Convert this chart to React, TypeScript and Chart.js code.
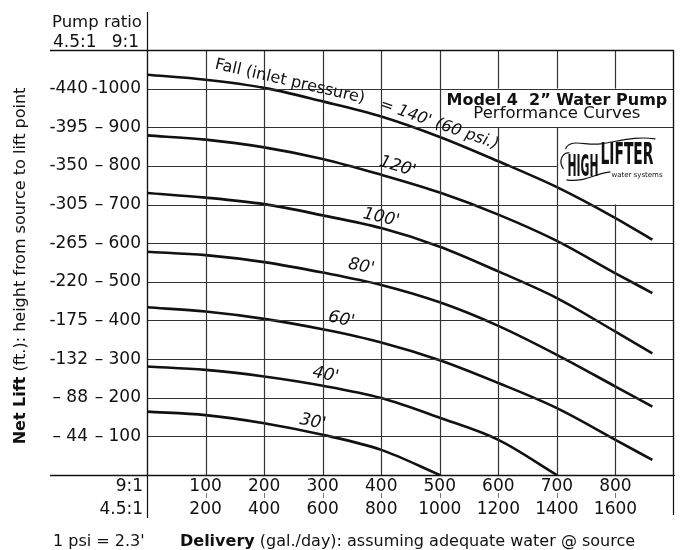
import React, { useEffect, useRef } from "react";
import { Chart, registerables } from "chart.js";

Chart.register(...registerables);

// Delivery (gal./day) at 9:1 ratio — x positions of curve points
const DELIVERY_9 = [0, 100, 200, 300, 400, 500, 600, 700, 800, 863];
// Tick labels of the delivery axis (two rows)
const TICKS_9 = [100, 200, 300, 400, 500, 600, 700, 800];
const TICKS_45 = [200, 400, 600, 800, 1000, 1200, 1400, 1600];
// Net lift tick labels (two columns)
const LIFT_9 = [100, 200, 300, 400, 500, 600, 700, 800, 900, 1000];
const LIFT_45 = [44, 88, 132, 175, 220, 265, 305, 350, 395, 440];

// Performance curves: net lift (ft, 9:1 scale) for each fall
const FALL_140 = [1036, 1023, 1002, 967, 928, 875, 812, 745, 665, 609];
const FALL_120 = [879, 868, 848, 818, 777, 731, 674, 606, 522, 471];
const FALL_100 = [730, 718, 701, 672, 639, 591, 527, 458, 371, 315];
const FALL_80 = [578, 569, 551, 524, 492, 447, 386, 311, 229, 177];
const FALL_60 = [434, 423, 404, 377, 343, 297, 238, 173, 91, 39];
const FALL_40 = [281, 272, 255, 231, 199, 148, 91, 0];
const FALL_30 = [164, 155, 134, 104, 65, 0];
const SERIES = [FALL_140, FALL_120, FALL_100, FALL_80, FALL_60, FALL_40, FALL_30];
const SERIES_NAMES = ["140'", "120'", "100'", "80'", "60'", "40'", "30'"];

// Curve labels (centre in data units)
const LABEL_TEXTS = ["Fall (inlet pressure)", "= 140' (60 psi.)", "120'", "100'", "80'", "60'", "40'", "30'"];
const LABEL_SERIES = [0, 0, 1, 2, 3, 4, 5, 6];
const LABEL_X = [244, 499, 428, 400, 366, 332, 305, 283];
const LABEL_Y = [1018, 907, 798, 666, 539, 402, 259, 137];
const LABEL_ITALIC = [false, true, true, true, true, true, true, true];

// Boxes that blank out grid cells (data units): [x0, x1, y0, y1]
const TITLE_CELL = [500, 900, 900, 1000];
const LOGO_CELL = [700, 900, 700, 900];

const FONT = "'DejaVu Sans', 'Liberation Sans', sans-serif";
const INK = "#111";
const GRID = "#333";

function inCell(c: number[], xv: number, yv: number, vertical: boolean) {
  // true when a grid segment (at a tick value) lies strictly inside a blank cell
  if (vertical) return xv > c[0] && xv < c[1];
  return yv > c[2] && yv < c[3];
}

function curveAngle(chart: any, sIdx: number, xv: number) {
  const s = SERIES[sIdx];
  const xs = chart.scales.x, ys = chart.scales.y;
  let i = 0;
  while (i < s.length - 2 && DELIVERY_9[i + 1] < xv) i++;
  const x1 = xs.getPixelForValue(DELIVERY_9[i]);
  const y1 = ys.getPixelForValue(s[i]);
  const x2 = xs.getPixelForValue(DELIVERY_9[i + 1]);
  const y2 = ys.getPixelForValue(s[i + 1]);
  return Math.atan2(y2 - y1, x2 - x1);
}

function drawRich(ctx: CanvasRenderingContext2D, parts: [string, string][], x: number, y: number, align: "left" | "center") {
  let total = 0;
  const widths = parts.map(([font, t]) => { ctx.font = font; const w = ctx.measureText(t).width; total += w; return w; });
  let cx = align === "center" ? x - total / 2 : x;
  ctx.textAlign = "left";
  parts.forEach(([font, t], i) => { ctx.font = font; ctx.fillText(t, cx, y); cx += widths[i]; });
}

function drawGrid(chart: any) {
  const ctx: CanvasRenderingContext2D = chart.ctx;
  const x = chart.scales.x, y = chart.scales.y;
  const area = chart.chartArea;
  const cells = [TITLE_CELL, LOGO_CELL];
  ctx.save();
  ctx.strokeStyle = GRID;
  ctx.lineWidth = 1.2;
  // vertical lines, skipping the parts inside blank cells
  x.ticks.forEach((t: any) => {
    const px = Math.min(Math.round(x.getPixelForValue(t.value)) + 0.5, Math.round(area.right) - 0.5);
    let segs: [number, number][] = [[area.top, area.bottom]];
    cells.forEach((c) => {
      if (!inCell(c, t.value, 0, true)) return;
      const ct = y.getPixelForValue(c[3]), cb = y.getPixelForValue(c[2]);
      const next: [number, number][] = [];
      segs.forEach(([a, b]) => {
        if (ct > a) next.push([a, Math.min(b, ct)]);
        if (cb < b) next.push([Math.max(a, cb), b]);
      });
      segs = next;
    });
    segs.forEach(([a, b]) => { ctx.beginPath(); ctx.moveTo(px, a); ctx.lineTo(px, b); ctx.stroke(); });
  });
  // horizontal lines
  y.ticks.forEach((t: any) => {
    const py = Math.round(y.getPixelForValue(t.value)) + 0.5;
    let segs: [number, number][] = [[area.left, area.right]];
    cells.forEach((c) => {
      if (!inCell(c, 0, t.value, false)) return;
      const cl = x.getPixelForValue(c[0]), cr = x.getPixelForValue(c[1]);
      const next: [number, number][] = [];
      segs.forEach(([a, b]) => {
        if (cl > a) next.push([a, Math.min(b, cl)]);
        if (cr < b) next.push([Math.max(a, cr), b]);
      });
      segs = next;
    });
    segs.forEach(([a, b]) => { ctx.beginPath(); ctx.moveTo(a, py); ctx.lineTo(b, py); ctx.stroke(); });
  });
  ctx.restore();
}

const overlay = {
  id: "overlay",
  afterDraw(chart: any) {
    const ctx: CanvasRenderingContext2D = chart.ctx;
    const x = chart.scales.x, y = chart.scales.y;
    const area = chart.chartArea;
    // grid (drawn last so nothing can cover it; curves are black so the overlap is invisible)
    drawGrid(chart);
    ctx.save();
    ctx.strokeStyle = INK;
    ctx.fillStyle = INK;
    // extended frame lines
    ctx.lineWidth = 1.5;
    ctx.beginPath();
    ctx.moveTo(50, Math.round(area.top) + 0.5); ctx.lineTo(area.right, Math.round(area.top) + 0.5);
    ctx.moveTo(50, Math.round(area.bottom) + 0.5); ctx.lineTo(area.right, Math.round(area.bottom) + 0.5);
    ctx.stroke();
    ctx.lineWidth = 1.2;
    ctx.beginPath();
    const ax = Math.round(area.left) + 0.5;
    ctx.moveTo(ax, 12); ctx.lineTo(ax, 518);
    const rx = Math.round(area.right) - 0.5;
    ctx.moveTo(rx, area.top); ctx.lineTo(rx, 515);
    ctx.stroke();
    // small ticks between delivery rows
    ctx.strokeStyle = "#777";
    ctx.lineWidth = 1;
    ctx.beginPath();
    TICKS_9.forEach((v) => {
      const px = Math.round(x.getPixelForValue(v)) + 0.5;
      ctx.moveTo(px, 493); ctx.lineTo(px, 498);
    });
    ctx.stroke();

    // header texts
    ctx.fillStyle = INK;
    ctx.textBaseline = "alphabetic";
    ctx.font = `16.5px ${FONT}`;
    ctx.textAlign = "left";
    ctx.fillText("Pump ratio", 52, 27);
    ctx.font = `17px ${FONT}`;
    ctx.fillText("4.5:1", 53, 47);
    ctx.textAlign = "right";
    ctx.fillText("9:1", 139, 47);
    ctx.textBaseline = "middle";
    ctx.fillText("9:1", 143, 487);
    ctx.fillText("4.5:1", 143, 510);

    // bottom texts
    ctx.textBaseline = "alphabetic";
    ctx.textAlign = "left";
    ctx.font = `16px ${FONT}`;
    ctx.fillText("1 psi = 2.3'", 53, 546);
    drawRich(ctx, [[`bold 16px ${FONT}`, "Delivery"], [`16px ${FONT}`, " (gal./day): assuming adequate water @ source"]], 180, 546, "left");

    // y axis title
    ctx.save();
    ctx.translate(21, 266);
    ctx.rotate(-Math.PI / 2);
    ctx.textBaseline = "middle";
    drawRich(ctx, [[`bold 16px ${FONT}`, "Net Lift"], [`16px ${FONT}`, " (ft.): height from source to lift point"]], 0, 0, "center");
    ctx.restore();

    // title box text
    const tcx = (x.getPixelForValue(TITLE_CELL[0]) + x.getPixelForValue(TITLE_CELL[1])) / 2;
    const tTop = y.getPixelForValue(TITLE_CELL[3]);
    ctx.textAlign = "center";
    ctx.textBaseline = "alphabetic";
    ctx.font = `bold 16px ${FONT}`;
    ctx.fillText("Model 4  2\u201d Water Pump", tcx, tTop + 16);
    ctx.font = `16.5px ${FONT}`;
    ctx.fillText("Performance Curves", tcx, tTop + 29);

    // logo
    const lcx = (x.getPixelForValue(LOGO_CELL[0]) + x.getPixelForValue(LOGO_CELL[1])) / 2;
    const lcy = (y.getPixelForValue(LOGO_CELL[2]) + y.getPixelForValue(LOGO_CELL[3])) / 2;
    const drawCond = (t: string, left: number, base: number, w: number, size: number) => {
      ctx.save();
      ctx.font = `bold ${size}px ${FONT}`;
      const m = ctx.measureText(t).width;
      ctx.translate(left, base);
      ctx.scale(w / m, 1);
      ctx.textAlign = "left";
      ctx.fillText(t, 0, 0);
      ctx.restore();
    };
    drawCond("HIGH", lcx - 48, lcy + 10, 31, 31);
    drawCond("LIFTER", lcx - 15, lcy - 2, 53, 31);
    ctx.lineWidth = 1.2;
    ctx.strokeStyle = INK;
    ctx.beginPath();
    ctx.moveTo(lcx - 50, lcy - 17);
    ctx.bezierCurveTo(lcx - 45, lcy - 28, lcx - 30, lcy - 20, lcx - 15, lcy - 22);
    ctx.bezierCurveTo(lcx + 5, lcy - 25, lcx + 20, lcy - 30, lcx + 40, lcy - 27);
    ctx.moveTo(lcx - 52, lcy + 3);
    ctx.bezierCurveTo(lcx - 58, lcy - 6, lcx - 52, lcy - 14, lcx - 46, lcy - 13);
    ctx.moveTo(lcx - 49, lcy + 14);
    ctx.bezierCurveTo(lcx - 30, lcy + 17, lcx - 20, lcy + 7, lcx - 5, lcy + 6);
    ctx.stroke();
    ctx.font = `7px ${FONT}`;
    ctx.textAlign = "left";
    ctx.fillText("water systems", lcx - 4, lcy + 11);

    // curve labels
    ctx.fillStyle = INK;
    LABEL_TEXTS.forEach((t, i) => {
      const px = x.getPixelForValue(LABEL_X[i]);
      const py = y.getPixelForValue(LABEL_Y[i]);
      const ang = curveAngle(chart, LABEL_SERIES[i], LABEL_X[i]);
      ctx.save();
      ctx.translate(px, py);
      ctx.rotate(ang);
      ctx.textAlign = "center";
      ctx.textBaseline = "middle";
      ctx.font = `${LABEL_ITALIC[i] ? "italic " : ""}${i < 2 ? 16 : 17}px ${FONT}`;
      ctx.fillText(t, 0, 0);
      ctx.restore();
    });
    ctx.restore();
  },
};

export default function App() {
  const ref = useRef<HTMLCanvasElement>(null);
  useEffect(() => {
    document.body.style.margin = "0";
    const datasets = SERIES.map((s, k) => ({
      label: SERIES_NAMES[k],
      data: s.map((v, i) => ({ x: DELIVERY_9[i], y: v })),
      borderColor: INK,
      backgroundColor: INK,
      borderWidth: 2.6,
      pointRadius: 0,
      fill: false,
      cubicInterpolationMode: "monotone" as const,
    }));
    const chart = new Chart(ref.current!, {
      type: "line",
      data: { datasets },
      options: {
        animation: false,
        responsive: false,
        devicePixelRatio: 1,
        layout: { padding: { top: 50, right: 6, left: 0, bottom: 0 } },
        plugins: { legend: { display: false }, tooltip: { enabled: false } },
        scales: {
          x: {
            type: "linear",
            min: 0,
            max: 900,
            afterFit: (s: any) => { s.height = 75; },
            grid: { display: false },
            border: { display: true, color: INK, width: 1 },
            ticks: {
              stepSize: 100,
              autoSkip: false,
              maxRotation: 0,
              padding: -8,
              color: INK,
              font: { family: FONT, size: 17, lineHeight: 1.35 },
              callback: (v: any) => {
                const i = TICKS_9.indexOf(Number(v));
                return i >= 0 ? [String(TICKS_9[i]), String(TICKS_45[i])] : "";
              },
            },
          },
          y: {
            type: "linear",
            position: "left",
            weight: 0,
            min: 0,
            max: 1100,
            afterFit: (s: any) => { s.width = 59; },
            grid: { display: false },
            border: { display: true, color: INK, width: 1 },
            ticks: {
              stepSize: 100,
              autoSkip: false,
              padding: -2,
              color: INK,
              font: { family: FONT, size: 17 },
              callback: (v: any) => {
                const i = LIFT_9.indexOf(Number(v));
                if (i < 0) return "";
                return LIFT_9[i] >= 1000 ? `-${LIFT_9[i]}` : `\u2013 ${LIFT_9[i]}`;
              },
            },
          },
          y2: {
            type: "linear",
            position: "left",
            weight: 1,
            min: 0,
            max: 1100,
            afterFit: (s: any) => { s.width = 88; },
            grid: { display: false },
            border: { display: false },
            ticks: {
              stepSize: 100,
              autoSkip: false,
              padding: -8,
              color: INK,
              font: { family: FONT, size: 17 },
              callback: (v: any) => {
                const i = LIFT_9.indexOf(Number(v));
                if (i < 0) return "";
                return LIFT_45[i] < 100 ? `\u2013 ${LIFT_45[i]}` : `-${LIFT_45[i]}`;
              },
            },
          },
        },
      },
      plugins: [overlay],
    } as any);
    return () => chart.destroy();
  }, []);
  return <canvas ref={ref} width={680} height={550} style={{ display: "block" }} />;
}
